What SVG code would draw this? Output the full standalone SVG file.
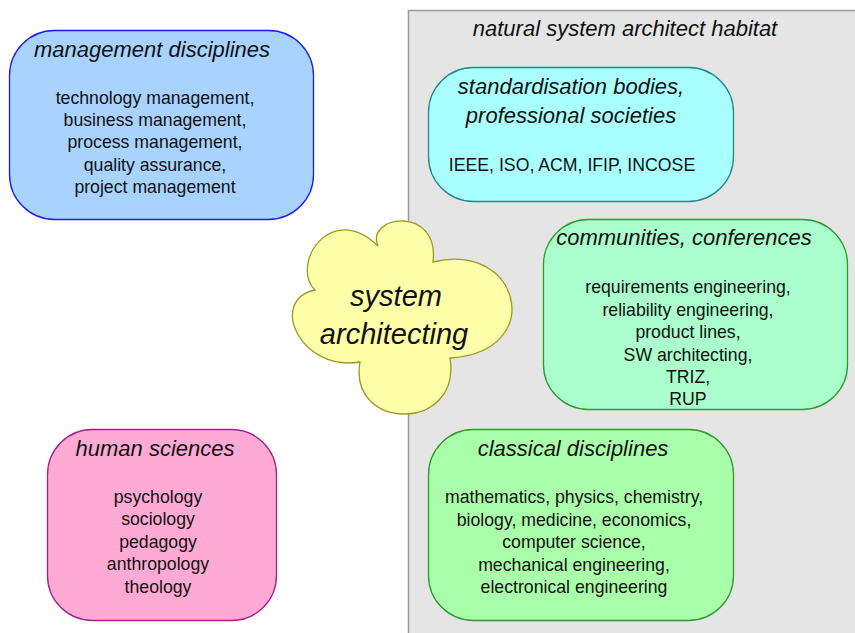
<svg xmlns="http://www.w3.org/2000/svg" width="855" height="633" viewBox="0 0 855 633">
<style>
text{font-family:"Liberation Sans",Arial,sans-serif;fill:#111;text-anchor:middle}
.t{font-size:22px;font-style:italic}
.b{font-size:17.7px}
.c{font-size:29px;font-style:italic}
.box{stroke-width:1.3}
</style>
<rect width="855" height="633" fill="#ffffff"/>
<g id="habitat">
<rect x="408.5" y="10.5" width="460" height="640" fill="#e5e5e5" stroke="#9a9a9a" stroke-width="1.5"/>
<text class="t" x="625" y="36">natural system architect habitat</text>
</g>
<g id="management">
<rect class="box" x="9.5" y="30.5" width="304" height="189" rx="45" ry="45" fill="#a9d3ff" stroke="#1a1aee"/>
<text class="t" x="152" y="57">management disciplines</text>
<text class="b" x="155" y="104">technology management,</text>
<text class="b" x="155" y="126">business management,</text>
<text class="b" x="155" y="148">process management,</text>
<text class="b" x="155" y="171">quality assurance,</text>
<text class="b" x="155" y="193">project management</text>
</g>
<g id="standardisation">
<rect class="box" x="428.5" y="67.5" width="305" height="134" rx="45" ry="45" fill="#aaffff" stroke="#228888"/>
<text class="t" x="571" y="94">standardisation bodies,</text>
<text class="t" x="571" y="123">professional societies</text>
<text class="b" x="572" y="171">IEEE, ISO, ACM, IFIP, INCOSE</text>
</g>
<g id="communities">
<rect class="box" x="543.5" y="219.5" width="304" height="190" rx="45" ry="45" fill="#aaffcc" stroke="#2e9a2e"/>
<text class="t" x="684" y="245">communities, conferences</text>
<text class="b" x="688" y="293">requirements engineering,</text>
<text class="b" x="688" y="316">reliability engineering,</text>
<text class="b" x="688" y="338">product lines,</text>
<text class="b" x="688" y="361">SW architecting,</text>
<text class="b" x="688" y="383">TRIZ,</text>
<text class="b" x="688" y="405">RUP</text>
</g>
<g id="classical">
<rect class="box" x="428.5" y="429.5" width="305" height="191" rx="45" ry="45" fill="#aaffaa" stroke="#2e9a2e"/>
<text class="t" x="573" y="456">classical disciplines</text>
<text class="b" x="574" y="503">mathematics, physics, chemistry,</text>
<text class="b" x="574" y="526">biology, medicine, economics,</text>
<text class="b" x="574" y="548">computer science,</text>
<text class="b" x="574" y="571">mechanical engineering,</text>
<text class="b" x="574" y="593">electronical engineering</text>
</g>
<g id="human">
<rect class="box" x="47.5" y="429.5" width="229" height="191" rx="45" ry="45" fill="#ffaad4" stroke="#a0208c"/>
<text class="t" x="155" y="456">human sciences</text>
<text class="b" x="158" y="503">psychology</text>
<text class="b" x="158" y="525">sociology</text>
<text class="b" x="158" y="548">pedagogy</text>
<text class="b" x="158" y="570">anthropology</text>
<text class="b" x="158" y="593">theology</text>
</g>
<g id="connectors"></g>
<g id="cloud">
<path d="M378,246 C365,215 440,205 433,262 C520,240 548,352 450,358 C462,432 348,432 360,362 C300,372 268,300 315,290 C290,265 330,200 378,246 Z" fill="#ffffaa" stroke="#999922" stroke-width="1.3"/>
<text class="c" x="396" y="306">system</text>
<text class="c" x="394" y="344">architecting</text>
</g>
</svg>
